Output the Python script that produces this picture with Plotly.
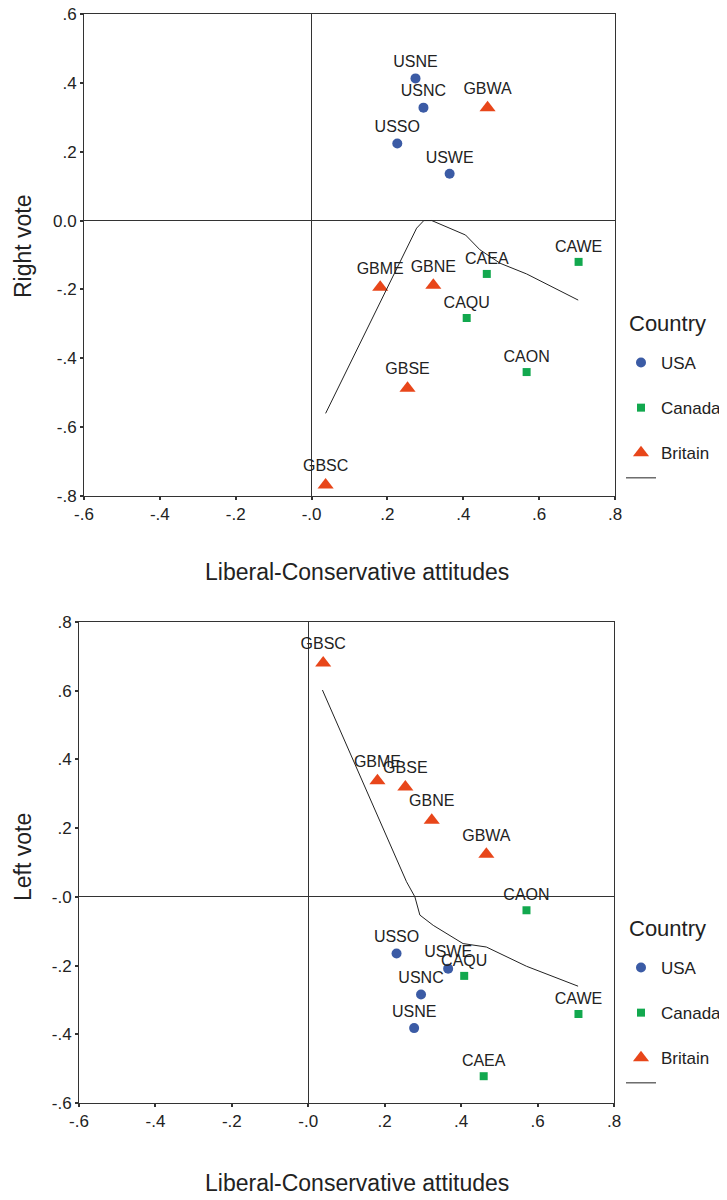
import plotly.graph_objects as go

# ---------------- data ----------------
us_regions = ["USNE", "USNC", "USSO", "USWE"]
ca_regions = ["CAEA", "CAWE", "CAQU", "CAON"]
gb_regions = ["GBWA", "GBME", "GBNE", "GBSE", "GBSC"]

# top panel: Right vote vs Liberal-Conservative attitudes
us_x_top = [0.274, 0.295, 0.226, 0.364]
us_y_top = [0.413, 0.328, 0.224, 0.136]
ca_x_top = [0.462, 0.704, 0.409, 0.567]
ca_y_top = [-0.155, -0.120, -0.283, -0.440]
gb_x_top = [0.464, 0.181, 0.321, 0.253, 0.037]
gb_y_top = [0.328, -0.194, -0.188, -0.487, -0.768]
fit_x_top = [0.037, 0.277, 0.296, 0.317, 0.406, 0.444, 0.497, 0.567, 0.703]
fit_y_top = [-0.560, -0.022, 0.000, 0.000, -0.042, -0.085, -0.124, -0.155, -0.231]

# bottom panel: Left vote vs Liberal-Conservative attitudes
us_x_bot = [0.277, 0.295, 0.231, 0.366]
us_y_bot = [-0.382, -0.284, -0.165, -0.209]
ca_x_bot = [0.459, 0.707, 0.408, 0.571]
ca_y_bot = [-0.522, -0.341, -0.230, -0.039]
gb_x_bot = [0.466, 0.181, 0.323, 0.254, 0.039]
gb_y_bot = [0.124, 0.338, 0.223, 0.320, 0.681]
fit_x_bot = [0.037, 0.209, 0.257, 0.279, 0.292, 0.327, 0.405, 0.466, 0.571, 0.706]
fit_y_bot = [0.602, 0.165, 0.044, 0.000, -0.053, -0.083, -0.136, -0.146, -0.202, -0.260]

x_tickvals = [-0.6, -0.4, -0.2, 0.0, 0.2, 0.4, 0.6, 0.8]
x_ticktext = ["-.6", "-.4", "-.2", "-.0", ".2", ".4", ".6", ".8"]
y_tickvals_top = [0.6, 0.4, 0.2, 0.0, -0.2, -0.4, -0.6, -0.8]
y_ticktext_top = [".6", ".4", ".2", "0.0", "-.2", "-.4", "-.6", "-.8"]
y_tickvals_bot = [0.8, 0.6, 0.4, 0.2, 0.0, -0.2, -0.4, -0.6]
y_ticktext_bot = [".8", ".6", ".4", ".2", "-.0", "-.2", "-.4", "-.6"]

# ---------------- style ----------------
OFF = 8  # default page margin of the html body
W, H = 727 - OFF, 1200 - OFF


def px(x):
    return (x - OFF) / W


def py(y):
    return 1 - (y - OFF) / H


SANS = "Liberation Sans, Arial, sans-serif"
TXT = "#222222"
AX = "#333333"
BLUE = "#3b5ba5"
GREEN = "#12a84e"
ORANGE = "#e8461a"

label_font = dict(family=SANS, size=16, color=TXT)

fig = go.Figure()


def add_panel(xa, ya, legend, us_x, us_y, ca_x, ca_y, gb_x, gb_y, fx, fy):
    fig.add_trace(go.Scatter(
        x=us_x, y=us_y, text=us_regions, mode="markers+text", name="USA",
        textposition="top center", textfont=label_font, xaxis=xa, yaxis=ya,
        marker=dict(symbol="circle", size=10, color=BLUE), legend=legend,
        legendgroup=legend + "us", legendrank=1))
    fig.add_trace(go.Scatter(
        x=ca_x, y=ca_y, text=ca_regions, mode="markers+text", name="Canada",
        textposition="top center", textfont=label_font, xaxis=xa, yaxis=ya,
        marker=dict(symbol="square", size=8, color=GREEN), legend=legend,
        legendgroup=legend + "ca", legendrank=2))
    fig.add_trace(go.Scatter(
        x=gb_x, y=gb_y, text=gb_regions, mode="markers+text", name="Britain",
        textposition="top center", textfont=label_font, xaxis=xa, yaxis=ya,
        marker=dict(symbol="triangle-up", size=14, color=ORANGE), legend=legend,
        legendgroup=legend + "gb", legendrank=3))
    fig.add_trace(go.Scatter(
        x=fx, y=fy, mode="lines", name=" ", xaxis=xa, yaxis=ya,
        line=dict(color="#222222", width=1), legend=legend,
        legendgroup=legend + "gb", legendrank=4, hoverinfo="skip"))


add_panel("x", "y", "legend", us_x_top, us_y_top, ca_x_top, ca_y_top,
          gb_x_top, gb_y_top, fit_x_top, fit_y_top)
add_panel("x2", "y2", "legend2", us_x_bot, us_y_bot, ca_x_bot, ca_y_bot,
          gb_x_bot, gb_y_bot, fit_x_bot, fit_y_bot)

axis_common = dict(
    showgrid=False, showline=True, mirror=True, linecolor=AX, linewidth=1,
    ticks="outside", ticklen=3, tickwidth=2, tickcolor=AX,
    zeroline=True, zerolinecolor=AX, zerolinewidth=1,
    tickfont=dict(family=SANS, size=17, color=TXT),
    ticklabeloverflow="allow",
)

legend_common = dict(
    xanchor="left", yanchor="top",
    font=dict(family=SANS, size=17, color=TXT),
    traceorder="grouped", tracegroupgap=20, bgcolor="rgba(0,0,0,0)",
)

fig.update_layout(
    width=W, height=H,
    margin=dict(l=0, r=0, t=0, b=0, autoexpand=False),
    paper_bgcolor="white", plot_bgcolor="white",
    showlegend=True,
    xaxis=dict(axis_common, domain=[px(84), px(615)], range=[-0.6, 0.8],
               tickvals=x_tickvals, ticktext=x_ticktext, anchor="y"),
    yaxis=dict(axis_common, domain=[py(496), py(14)],
               range=[-0.8, 0.6], tickvals=y_tickvals_top,
               ticktext=y_ticktext_top, anchor="x"),
    xaxis2=dict(axis_common, domain=[px(79), px(614)], range=[-0.6, 0.8],
                tickvals=x_tickvals, ticktext=x_ticktext, anchor="y2"),
    yaxis2=dict(axis_common, domain=[py(1103), py(622)],
                range=[-0.6, 0.8], tickvals=y_tickvals_bot,
                ticktext=y_ticktext_bot, anchor="x2"),
    legend=dict(legend_common, x=px(621), y=py(345)),
    legend2=dict(legend_common, x=px(621), y=py(950)),
)

title_font = dict(family=SANS, size=23, color=TXT)
legend_title_font = dict(family=SANS, size=22, color=TXT)
annotations = [
    dict(text="Liberal-Conservative attitudes", x=px(357), y=py(572), font=title_font),
    dict(text="Liberal-Conservative attitudes", x=px(357), y=py(1183), font=title_font),
    dict(text="Right vote", x=px(23), y=py(246), textangle=-90, font=title_font),
    dict(text="Left vote", x=px(23), y=py(857), textangle=-90, font=title_font),
]
for a in annotations:
    fig.add_annotation(xref="paper", yref="paper", xanchor="center",
                       yanchor="middle", showarrow=False, **a)
for yy in (323, 928):
    fig.add_annotation(text="Country", xref="paper", yref="paper",
                       x=px(627), y=py(yy), xanchor="left", yanchor="middle",
                       showarrow=False, font=legend_title_font)

fig.write_html("out.html")
